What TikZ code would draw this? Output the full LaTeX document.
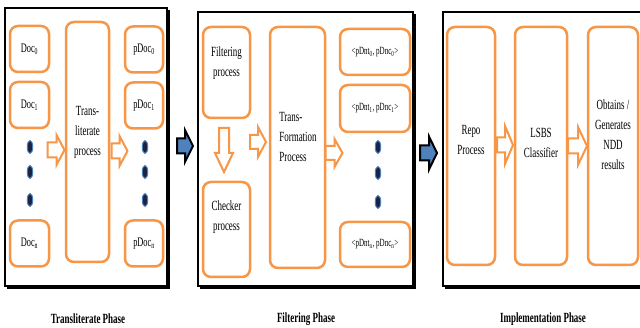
\documentclass[tikz,border=0pt]{standalone}
\usepackage{fontspec}
\setmainfont{Liberation Serif}[FakeStretch=0.64]
\usetikzlibrary{shapes.geometric}
\definecolor{boxorange}{RGB}{247,150,70}
\definecolor{arrowblue}{RGB}{79,129,189}
\definecolor{dotnavy}{RGB}{25,35,70}

% block arrow: style, centre x, centre y, length, head width, shaft width, head length
\newcommand{\blockarrow}[7]{%
  \draw[#1] (#2-#4/2, #3-#6/2) -- (#2+#4/2-#7, #3-#6/2) -- (#2+#4/2-#7, #3-#5/2)
    -- (#2+#4/2, #3) -- (#2+#4/2-#7, #3+#5/2) -- (#2+#4/2-#7, #3+#6/2)
    -- (#2-#4/2, #3+#6/2) -- cycle;}

\tikzset{
  panel/.style={draw=black, line width=1.8pt, fill=white},
  procbox/.style={draw=boxorange, line width=2.5pt, rounded corners=8pt, fill=white, inner sep=0pt, font=\fontsize{13}{18}\selectfont},
  boxtext/.style={align=center, inner sep=0pt, font=\fontsize{14}{20}\selectfont},
  flowarrow/.style={draw=boxorange, line width=2pt, fill=white, line join=miter},
  linkarrow/.style={draw=black, line width=2pt, fill=arrowblue, line join=miter},
  seqdot/.style={ellipse, fill=dotnavy, draw=arrowblue, line width=1pt, minimum width=5.5pt, minimum height=13pt, inner sep=0pt},
  phase/.style={font=\bfseries\fontsize{14}{16}\selectfont},
}

\begin{document}
\begin{tikzpicture}[x=1pt, y=-1pt]
    \clip (0,0) rectangle (640,328);

    % Panels with shadow
    \fill (7,10) rectangle (170,289);
    \draw[panel] (5,8) rectangle (167,286);
    \fill (200,14) rectangle (416,289);
    \draw[panel] (198,12) rectangle (413,286);
    \fill (445,14) rectangle (662,289);
    \draw[panel] (443,12) rectangle (660,286);

    % Transliterate phase
    \node[procbox, minimum width=39pt, minimum height=46pt] (doc0) at (29.5,49) {Doc\textsubscript{0}};
    \node[procbox, minimum width=39pt, minimum height=46pt] (doc1) at (29.5,105) {Doc\textsubscript{1}};
    \node[procbox, minimum width=39pt, minimum height=46pt] (docn) at (29.5,243.5) {Doc\textsubscript{n}};
    \foreach \y [count=\i] in {147,172,200}
        \node[seqdot] (ldot\i) at (30,\y) {};
    \blockarrow{flowarrow}{56}{150}{17}{30}{15}{8}
    \node[procbox, minimum width=43pt, minimum height=240pt] (translit) at (87.5,142) {};
    \node[boxtext] (translittext) at (87.5,132) {Trans-\\literate\\process};
    \blockarrow{flowarrow}{119.5}{151}{16}{30}{15}{8}
    \node[procbox, minimum width=38pt, minimum height=46pt] (pdoc0) at (144,49.5) {pDoc\textsubscript{0}};
    \node[procbox, minimum width=38pt, minimum height=46pt] (pdoc1) at (144,105.5) {pDoc\textsubscript{1}};
    \node[procbox, minimum width=38pt, minimum height=46pt] (pdocn) at (144,243.5) {pDoc\textsubscript{n}};
    \foreach \y [count=\i] in {147,172,200}
        \node[seqdot] (rdot\i) at (145,\y) {};

    \blockarrow{linkarrow}{185}{146}{16}{32}{15}{8}

    % Filtering phase
    \node[procbox, minimum width=47pt, minimum height=91pt] (filter) at (226.5,72.5) {};
    \node[boxtext] (filtertext) at (226.5,63) {Filtering\\process};
    \blockarrow{flowarrow, rotate around={-90:(224,150)}}{224}{150}{44}{18}{10}{19}
    \node[procbox, minimum width=47pt, minimum height=95pt] (checker) at (226.5,229.5) {};
    \node[boxtext] (checkertext) at (226.5,217) {Checker\\process};
    \blockarrow{flowarrow}{258}{142}{16}{30}{14}{8}
    \node[procbox, minimum width=55pt, minimum height=241pt] (transform) at (297.5,147.5) {};
    \node[boxtext, align=left] (transformtext) at (298,137) {Trans-\\Formation\\Process};
    \blockarrow{flowarrow}{334}{153}{17}{28}{14}{8}
    \node[procbox, minimum width=70pt, minimum height=46pt, font=\fontsize{11}{13}\selectfont] (pair0) at (375,52) {<pDnt\textsubscript{0}, pDnc\textsubscript{0}>};
    \node[procbox, minimum width=70pt, minimum height=47pt, font=\fontsize{11}{13}\selectfont] (pair1) at (375,108.5) {<pDnt\textsubscript{1}, pDnc\textsubscript{1}>};
    \node[procbox, minimum width=70pt, minimum height=45pt, font=\fontsize{11}{13}\selectfont] (pairn) at (375,244.5) {<pDnt\textsubscript{n}, pDnc\textsubscript{n}>};
    \foreach \y [count=\i] in {147,173,202}
        \node[seqdot] (pdot\i) at (378,\y) {};

    \blockarrow{linkarrow}{428.5}{153}{17}{33}{15}{8}

    % Implementation phase
    \node[procbox, minimum width=48pt, minimum height=238pt] (repo) at (471,146) {};
    \node[boxtext] (repotext) at (471,140) {Repo\\Process};
    \blockarrow{flowarrow}{505}{145}{16}{38}{15}{8}
    \node[procbox, minimum width=52pt, minimum height=238pt] (lsbs) at (541,146) {};
    \node[boxtext] (lsbstext) at (541,143) {LSBS\\Classifier};
    \blockarrow{flowarrow}{577.5}{146}{19}{38}{15}{9}
    \node[procbox, minimum width=50pt, minimum height=238pt] (ndd) at (613,146) {};
    \node[boxtext] (nddtext) at (613,135) {Obtains /\\Generates\\NDD\\results};

    % Phase labels
    \node[phase] (phase1) at (88,319) {Transliterate Phase};
    \node[phase] (phase2) at (306,319) {Filtering Phase};
    \node[phase] (phase3) at (543,319) {Implementation Phase};
\end{tikzpicture}
\end{document}
